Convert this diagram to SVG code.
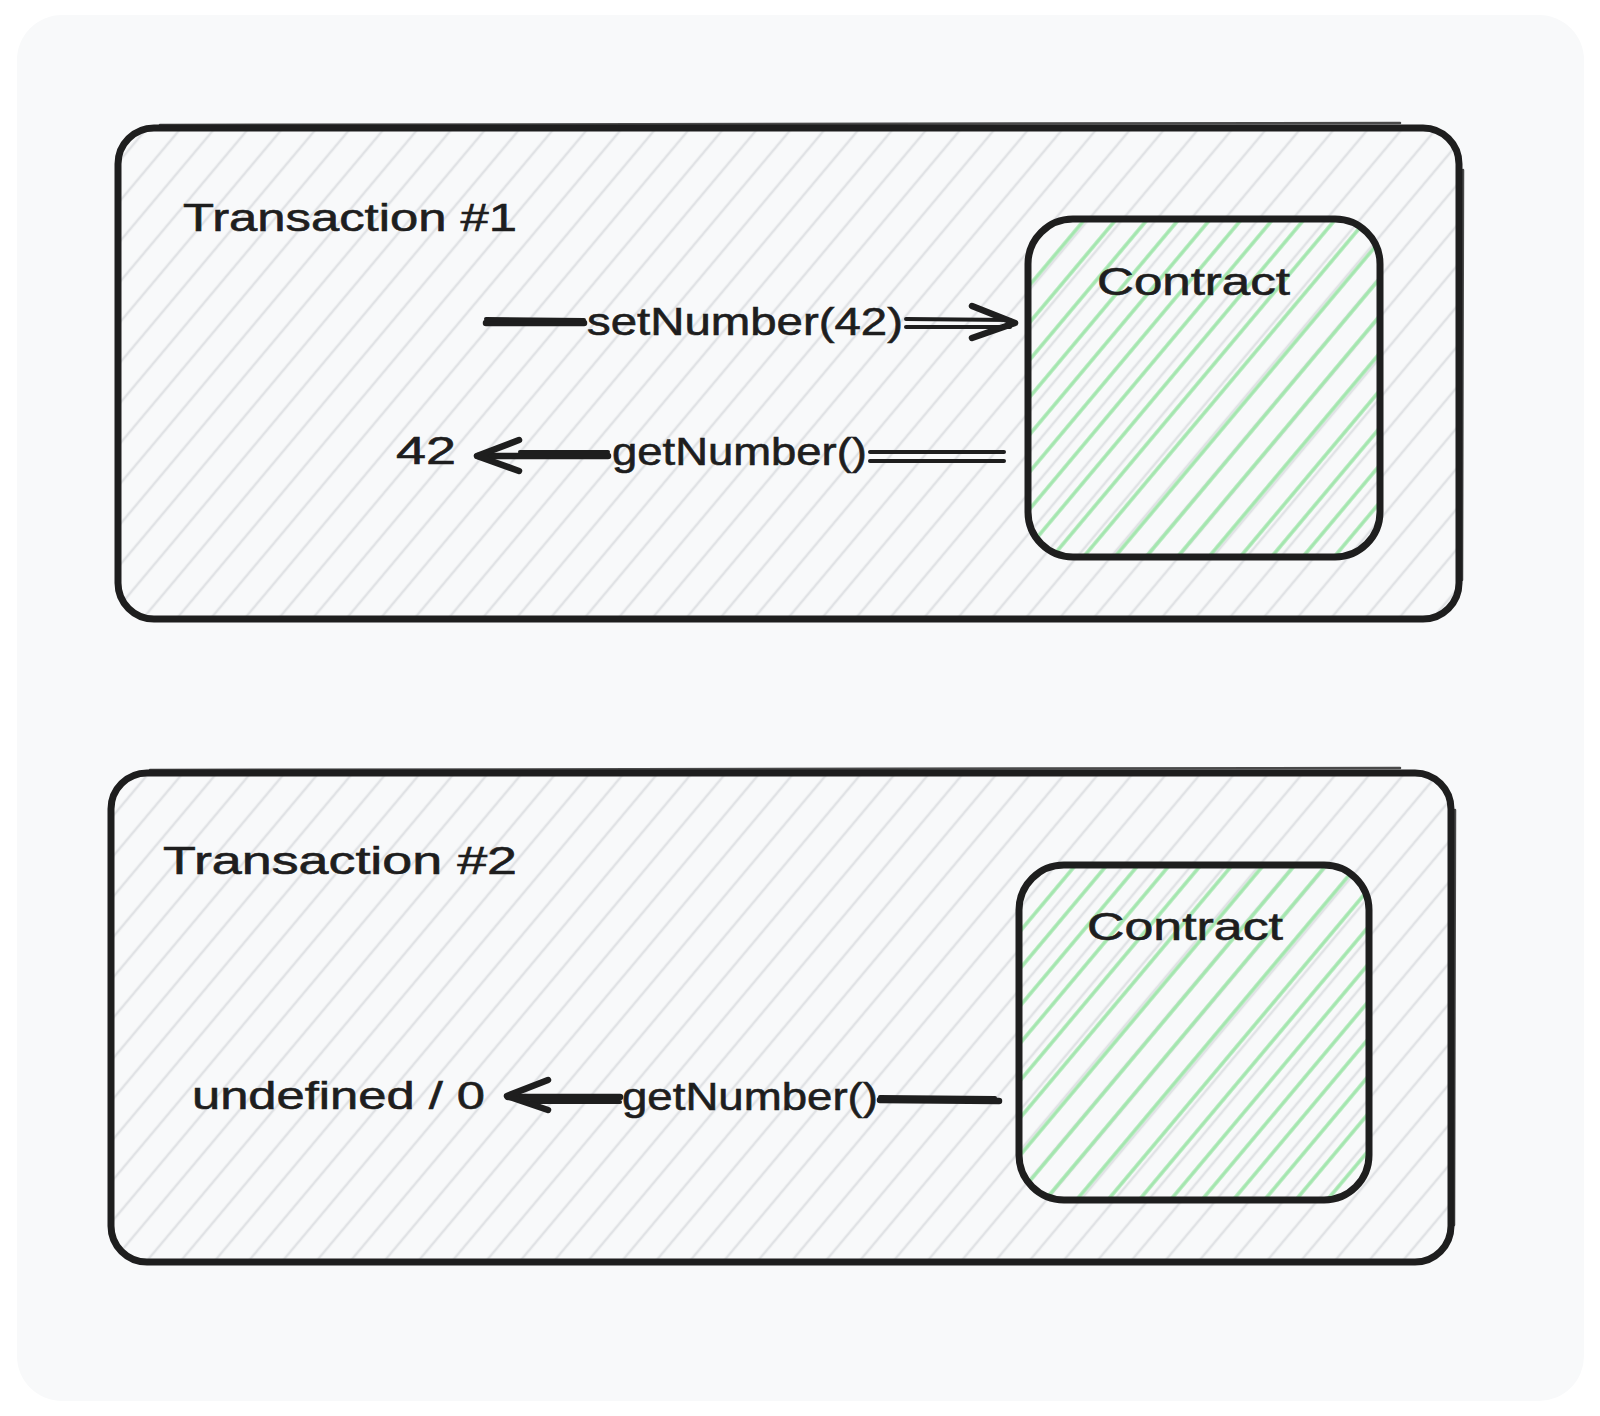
<svg xmlns="http://www.w3.org/2000/svg" width="1600" height="1416" viewBox="0 0 1600 1416">
<style>
.frame{fill:url(#hg);stroke:#1e1e1e;stroke-width:7;stroke-linejoin:round}
.frame2{fill:none;stroke:#1e1e1e;stroke-width:2.5;opacity:.8;stroke-linecap:round}
.contract{fill:url(#hgreen);stroke:#1e1e1e;stroke-width:7}
.lbl{font-family:"Liberation Sans",Arial,sans-serif;font-size:38px;fill:#1e1e1e;stroke:#1e1e1e;stroke-width:0.6}
.conn{stroke:#1e1e1e;stroke-width:6.5;stroke-linecap:round;stroke-linejoin:round;fill:none}
.thin{stroke:#1e1e1e;stroke-width:4;stroke-linecap:round;fill:none}
</style>
<defs>
<pattern id="hg" width="26" height="10" patternUnits="userSpaceOnUse" patternTransform="rotate(40)">
<rect width="26" height="10" fill="#f8f9fa"/>
<line x1="13" y1="-1" x2="13" y2="11" stroke="#e0e2e5" stroke-width="2.5"/>
</pattern>
<pattern id="hgreen" width="24" height="10" patternUnits="userSpaceOnUse" patternTransform="rotate(40)">
<line x1="12" y1="-1" x2="12" y2="11" stroke="#a3e6ae" stroke-width="3.5"/>
</pattern>
</defs>
<rect width="1600" height="1416" fill="#ffffff"/>
<rect x="17" y="15" width="1567" height="1386" rx="45" fill="#f8f9fa"/>

<g id="tx1">
<rect class="frame" x="118" y="128" width="1341" height="491" rx="36"/>
<path class="frame2" d="M160 125 L1400 123 M1463 170 L1462 580"/>
<text class="lbl" x="183" y="231" textLength="334" lengthAdjust="spacingAndGlyphs">Transaction #1</text>
</g>
<g id="contract1">
<rect class="contract" x="1028" y="219" width="352" height="338" rx="45"/>
<text class="lbl" x="1097" y="295" textLength="193" lengthAdjust="spacingAndGlyphs">Contract</text>
</g>
<g id="tx2">
<rect class="frame" x="111" y="773" width="1340" height="489" rx="36"/>
<path class="frame2" d="M150 770 L1400 768 M1455 810 L1454 1225"/>
<text class="lbl" x="163" y="874" textLength="354" lengthAdjust="spacingAndGlyphs">Transaction #2</text>
</g>
<g id="contract2">
<rect class="contract" x="1019" y="865" width="350" height="335" rx="45"/>
<text class="lbl" x="1087" y="940" textLength="196" lengthAdjust="spacingAndGlyphs">Contract</text>
</g>
<g id="val42"><text class="lbl" x="396" y="464" textLength="60" lengthAdjust="spacingAndGlyphs">42</text></g>
<g id="valundef"><text class="lbl" x="192" y="1109" textLength="293" lengthAdjust="spacingAndGlyphs">undefined / 0</text></g>

<g id="connectors">
<!-- setNumber(42) -->
<line class="conn" x1="486" y1="323" x2="584" y2="323"/>
<line class="thin" x1="486" y1="319" x2="584" y2="320"/>
<line class="thin" x1="906" y1="319" x2="1010" y2="320"/>
<line class="thin" x1="906" y1="327" x2="1010" y2="327"/>
<path class="conn" d="M972 306 L1015 323 L972 338"/>
<text class="lbl" x="587" y="335" textLength="316" lengthAdjust="spacingAndGlyphs">setNumber(42)</text>
<!-- getNumber() tx1 -->
<line class="thin" x1="870" y1="452" x2="1004" y2="452"/>
<line class="thin" x1="870" y1="461" x2="1004" y2="461"/>
<line class="conn" x1="478" y1="456" x2="608" y2="456"/>
<line class="thin" x1="520" y1="452" x2="608" y2="452"/>
<path class="conn" d="M519 440 L477 456 L519 471"/>
<text class="lbl" x="612" y="465" textLength="255" lengthAdjust="spacingAndGlyphs">getNumber()</text>
<!-- getNumber() tx2 -->
<line class="conn" x1="880" y1="1100" x2="999" y2="1101"/>
<line class="thin" x1="880" y1="1097" x2="995" y2="1098"/>
<line class="conn" x1="508" y1="1097" x2="620" y2="1097"/>
<line class="thin" x1="530" y1="1102" x2="620" y2="1102"/>
<path class="conn" d="M548 1080 L507 1096 L548 1110"/>
<text class="lbl" x="622" y="1110" textLength="256" lengthAdjust="spacingAndGlyphs">getNumber()</text>
</g>
</svg>
